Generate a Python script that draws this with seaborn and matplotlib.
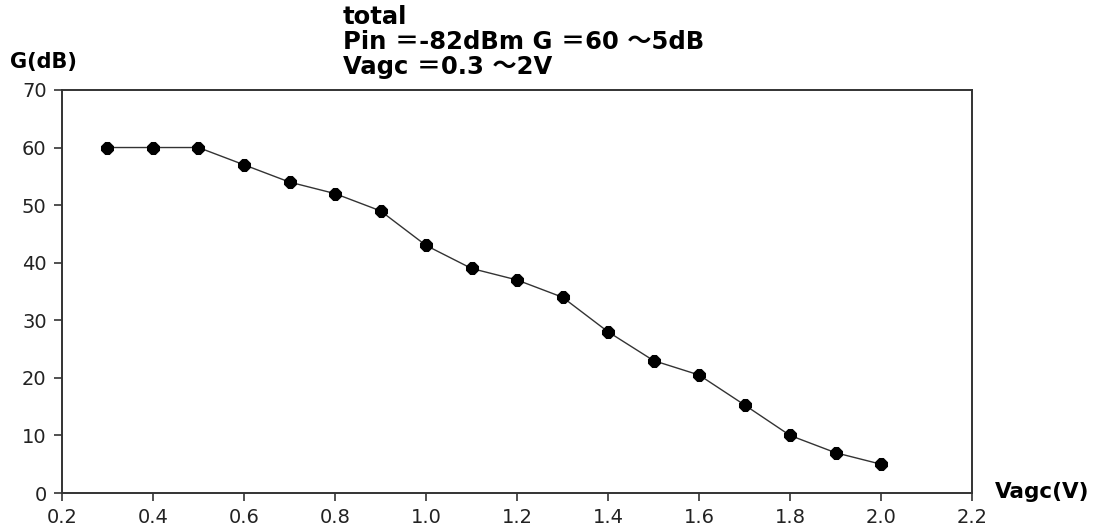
import matplotlib
matplotlib.use("Agg")
import matplotlib.pyplot as plt
import seaborn as sns
import pandas as pd

# Gain versus AGC control voltage
vagc = [0.3, 0.4, 0.5, 0.6, 0.7, 0.8, 0.9, 1.0, 1.1, 1.2, 1.3, 1.4, 1.5, 1.6, 1.7, 1.8, 1.9, 2.0]
gain_db = [60, 60, 60, 57, 54, 52, 49, 43, 39, 37, 34, 28, 23, 20.5, 15.3, 10, 7, 5]
x_ticks = [0.2, 0.4, 0.6, 0.8, 1.0, 1.2, 1.4, 1.6, 1.8, 2.0, 2.2]
y_ticks = [0, 10, 20, 30, 40, 50, 60, 70]

sns.set_theme(style="white")
plt.rcParams["font.family"] = ["DejaVu Sans", "Noto Sans CJK SC"]

df = pd.DataFrame({"Vagc": vagc, "G": gain_db})

fig = plt.figure(figsize=(11.09, 5.26), dpi=100)
ax = fig.add_axes([0.0559, 0.0627, 0.8206, 0.7663])

sns.lineplot(data=df, x="Vagc", y="G", ax=ax, color="#333333", linewidth=1.0,
             marker="8", markersize=9, markerfacecolor="black",
             markeredgecolor="black")

ax.set_xlim(0.2, 2.2)
ax.set_ylim(0, 70)
ax.set_xticks(x_ticks)
ax.set_xticklabels([f"{t:.1f}" for t in x_ticks])
ax.set_yticks(y_ticks)
ax.set_xlabel("")
ax.set_ylabel("")
ax.tick_params(axis="both", which="major", direction="out", length=6, width=1.2,
               color="#333333", labelsize=14, labelcolor="#222222", pad=5,
               bottom=True, left=True)
for s in ax.spines.values():
    s.set_color("#333333")
    s.set_linewidth(1.4)

title_font = dict(fontsize=17.5, fontweight="bold", color="black", ha="left",
                  va="center", family=["DejaVu Sans", "Noto Sans CJK SC"])
fig.text(343 / 1109, 1 - 17 / 526, "total", **title_font)
fig.text(343 / 1109, 1 - 42 / 526, "Pin \uff1d-82dBm G \uff1d60 \uff5e5dB", **title_font)
fig.text(343 / 1109, 1 - 67 / 526, "Vagc \uff1d0.3 \uff5e2V", **title_font)
fig.text(10 / 1109, 1 - 62 / 526, "G(dB)", fontsize=15, fontweight="bold",
         color="black", ha="left", va="center")
fig.text(995 / 1109, 1 - 492 / 526, "Vagc(V)", fontsize=15.5, fontweight="bold",
         color="black", ha="left", va="center")

fig.savefig("out.png", dpi=100)
